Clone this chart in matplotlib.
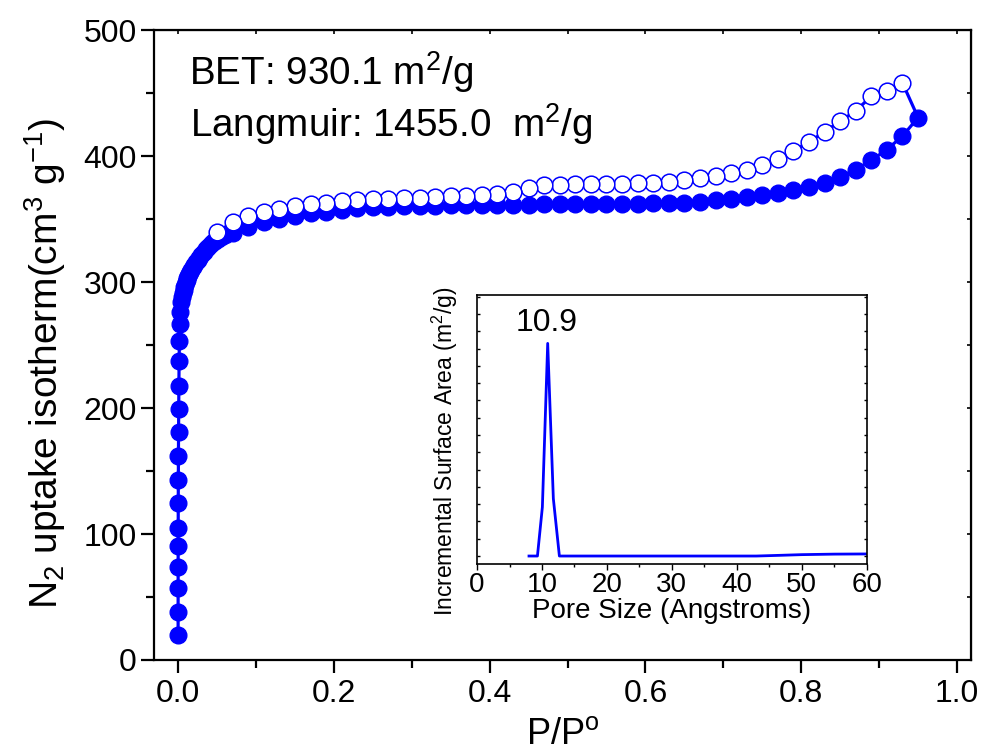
import numpy as np
import matplotlib as mpl
mpl.use('Agg')
from matplotlib import pyplot as plt
from matplotlib.ticker import MultipleLocator

plt.rcParams['font.family'] = ['Liberation Sans', 'DejaVu Sans']
plt.rcParams['mathtext.default'] = 'regular'

#------------------------------------------------------------------------------
# N2 isotherm, adsorption branch (filled)
#------------------------------------------------------------------------------
ads_p = [0.00001, 0.00002, 0.00004, 0.00006, 0.00009, 0.00013, 0.0002, 0.0003,
         0.0004, 0.0006, 0.0008, 0.001, 0.0013, 0.0017, 0.0022, 0.003, 0.004,
         0.005, 0.006, 0.007, 0.008, 0.009, 0.010, 0.011, 0.012, 0.013, 0.014,
         0.015, 0.017, 0.019, 0.021, 0.023, 0.025, 0.027, 0.030, 0.033, 0.036,
         0.039, 0.042, 0.045, 0.048, 0.051, 0.055, 0.060,
         0.07, 0.09, 0.11, 0.13, 0.15, 0.17, 0.19, 0.21, 0.23, 0.25, 0.27, 0.29,
         0.31, 0.33, 0.35, 0.37, 0.39, 0.41, 0.43, 0.45, 0.47, 0.49, 0.51, 0.53,
         0.55, 0.57, 0.59, 0.61, 0.63, 0.65, 0.67, 0.69, 0.71, 0.73, 0.75, 0.77,
         0.79, 0.81, 0.83, 0.85, 0.87, 0.89, 0.91, 0.93, 0.95]
ads_v = [19.8, 38.3, 56.9, 74.1, 90.5, 104.5, 124.4, 142.9,
         161.9, 180.7, 199.2, 217.5, 237.3, 253.2, 266.4, 276.4, 284.4,
         288, 291, 294, 296, 298, 300, 302, 303.5, 305, 306.5,
         308, 310, 312, 314, 316, 317.5, 319, 321.5, 324, 326,
         328, 330, 331.5, 333, 334.5, 336, 337.5,
         339.4, 343.9, 347.9, 350.5, 352.6, 354.5, 355.8, 357.1, 358.5, 359.3, 359.8, 360.1,
         360.6, 360.6, 361.1, 361.2, 361.3, 361.4, 361.5, 361.6, 361.7, 361.8, 361.9, 362.0,
         362.1, 362.2, 362.4, 362.6, 362.8, 362.9, 363.7, 365.1, 366.4, 367.7, 369.0, 370.4,
         373.0, 375.6, 378.8, 383.6, 389.4, 396.8, 405.3, 415.9, 430.7]

# desorption branch (open), from high to low pressure
des_p = [0.93, 0.91, 0.89, 0.87, 0.85, 0.83, 0.81, 0.79, 0.77, 0.75, 0.73, 0.71,
         0.69, 0.67, 0.65, 0.63, 0.61, 0.59, 0.57, 0.55, 0.53, 0.51, 0.49, 0.47,
         0.45, 0.43, 0.41, 0.39, 0.37, 0.35, 0.33, 0.31, 0.29, 0.27, 0.25, 0.23,
         0.21, 0.19, 0.17, 0.15, 0.13, 0.11, 0.09, 0.07, 0.05]
des_v = [458.2, 451.8, 447.6, 436.0, 427.8, 419.3, 411.4, 404.2, 397.6, 392.9, 389.4, 386.7,
         384.4, 382.3, 381.0, 379.6, 379.1, 378.8, 378.3, 378.0, 377.6, 377.6, 377.0, 377.0,
         374.4, 371.2, 369.8, 369.0, 368.3, 368.0, 367.5, 367.2, 366.9, 366.4, 365.9, 365.1,
         364.3, 362.9, 361.9, 360.3, 357.9, 355.3, 352.4, 347.4, 339.9]

# pore size distribution (inset)
pore_size = [8.0, 9.3, 10.06, 10.88, 11.75, 12.68, 20, 30, 40, 43, 46.6, 50, 55, 60]
pore_area = [0, 0, 2.83, 12.3, 3.32, 0, 0, 0, 0, 0, 0.04, 0.08, 0.11, 0.12]

blue = '#0000FF'

fig = plt.figure(figsize=(9.85, 7.56), dpi=100)
ax = fig.add_axes([0.1563, 0.127, 0.8295, 0.833])

ax.plot(ads_p, ads_v, '-', color=blue, lw=2.3, marker='o', ms=12,
        mfc=blue, mec=blue, zorder=3)
ax.plot([ads_p[-1]] + des_p, [ads_v[-1]] + des_v, '-', color=blue, lw=2.3, zorder=4)
ax.plot(des_p, des_v, 'o', ms=12, mfc='white', mec=blue, mew=1.1, zorder=5)

ax.set_xlim(-0.031, 1.018)
ax.set_ylim(0, 500)
ax.xaxis.set_major_locator(MultipleLocator(0.2))
ax.xaxis.set_minor_locator(MultipleLocator(0.1))
ax.yaxis.set_major_locator(MultipleLocator(100))
ax.yaxis.set_minor_locator(MultipleLocator(50))
ax.xaxis.set_major_formatter(mpl.ticker.FormatStrFormatter('%.1f'))

for s in ax.spines.values():
    s.set_linewidth(1.6)
ax.tick_params(which='major', direction='out', length=9.5, width=1.6, labelsize=23,
               top=False, right=False)
ax.tick_params(which='minor', direction='out', length=5.8, width=1.6,
               top=False, right=False)
ax.tick_params(axis='x', pad=4)
ax.tick_params(axis='y', pad=3)

# small inward ticks on top and right
axt = ax.secondary_xaxis('top')
axt.xaxis.set_major_locator(MultipleLocator(0.1))
axt.tick_params(direction='in', length=3, width=1.2, labeltop=False)
axr = ax.secondary_yaxis('right')
axr.yaxis.set_major_locator(MultipleLocator(50))
axr.tick_params(direction='in', length=3, width=1.2, labelright=False)

ax.set_xlabel('P/P$^{o}$', fontsize=26)
ax.xaxis.set_label_coords(0.5, -0.091)
ax.set_ylabel('N$_2$ uptake isotherm(cm$^3$ g$^{-1}$)', fontsize=28)
ax.yaxis.set_label_coords(-0.105, 0.471)

ax.text(0.043, 0.9127, 'BET: 930.1 m$^2$/g', transform=ax.transAxes,
        fontsize=27.8, va='baseline')
ax.text(0.044, 0.8306, 'Langmuir: 1455.0  m$^2$/g', transform=ax.transAxes,
        fontsize=27.8, va='baseline')

# inset: pore size distribution
ins = fig.add_axes([0.4843, 0.254, 0.3956, 0.3558])
ins.plot(pore_size, pore_area, '-', color=blue, lw=2)
ins.set_xlim(0, 60)
ins.set_ylim(-0.46, 15.1)
ins.xaxis.set_major_locator(MultipleLocator(10))
ins.xaxis.set_minor_locator(MultipleLocator(5))
ins.yaxis.set_major_locator(MultipleLocator(1))
ins.set_yticklabels([])
ins.tick_params(axis='y', which='both', direction='in', length=2.5, width=1,
                left=True, right=True)
ins.tick_params(axis='x', which='major', direction='out', length=4, width=1,
                labelsize=20, pad=2)
ins.tick_params(axis='x', which='minor', direction='out', length=2.5, width=1)
for s in ins.spines.values():
    s.set_linewidth(1.2)
ins.set_xlabel('Pore Size (Angstroms)', fontsize=20, labelpad=0)
ins.set_ylabel('Incremental Surface Area (m$^2$/g)', fontsize=16.5)
ins.yaxis.set_label_coords(-0.044, 0.42)
ins.text(10.7, 12.6, '10.9', fontsize=23, ha='center', va='bottom')

fig.savefig('out.png', dpi=100)
